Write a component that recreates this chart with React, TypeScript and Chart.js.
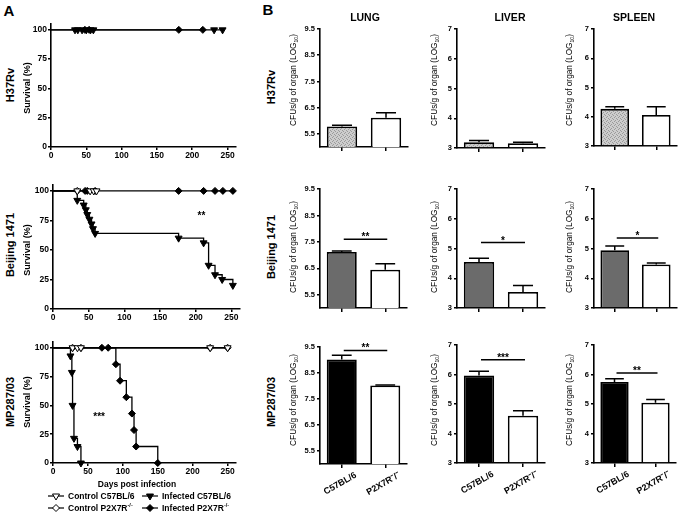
import React, { useEffect, useRef } from 'react';
import { Chart, registerables } from 'chart.js';

Chart.register(...registerables);

const FF = "'Liberation Sans', Arial, Helvetica, sans-serif";

// ---------------- Panel A: survival data ----------------
const strains = ['H37Rv', 'Beijing 1471', 'MP287/03'];
const survXTicks = [0, 50, 100, 150, 200, 250];
const survYTicks = [0, 25, 50, 75, 100];
const survXMax = 262;
const survYMax = 105;

// H37Rv
const h37CtrlC57Days: number[] = [];
const h37CtrlC57Surv: number[] = [];
const h37CtrlP2Days: number[] = [];
const h37CtrlP2Surv: number[] = [];
const h37InfC57Days = [0, 34, 38, 44, 50, 56, 60, 231, 243];
const h37InfC57Surv = [100, 100, 100, 100, 100, 100, 100, 100, 100];
const h37InfP2Days = [0, 48, 54, 181, 215];
const h37InfP2Surv = [100, 100, 100, 100, 100];

// Beijing 1471
const bjCtrlC57Days = [0, 34, 52, 57, 61];
const bjCtrlC57Surv = [100, 100, 100, 100, 100];
const bjCtrlP2Days = [0, 34];
const bjCtrlP2Surv = [100, 100];
const bjInfC57Days = [0, 34, 43, 46, 48, 51, 54, 56, 59, 176, 211, 218, 227, 237, 252];
const bjInfC57Surv = [100, 92, 88, 84, 80, 76, 72, 68, 64, 60, 56, 37, 29, 25, 20];
const bjInfP2Days = [0, 45, 48, 59, 176, 211, 227, 238, 252];
const bjInfP2Surv = [100, 100, 100, 100, 100, 100, 100, 100, 100];

// MP287/03
const mpCtrlC57Days = [0, 28, 35, 40, 225, 250];
const mpCtrlC57Surv = [100, 100, 100, 100, 100, 100];
const mpCtrlP2Days = [0, 28, 40, 225, 250];
const mpCtrlP2Surv = [100, 100, 100, 100, 100];
const mpInfC57Days = [0, 25, 27, 28, 30, 35, 40];
const mpInfC57Surv = [100, 92.9, 78.6, 50, 21.4, 14.3, 0];
const mpInfP2Days = [0, 70, 79, 90, 96, 105, 113, 116, 119, 150];
const mpInfP2Surv = [100, 100, 100, 85.7, 71.4, 57.1, 42.9, 28.6, 14.3, 0];

const survStarDay = [null, 208, 66];
const survStarPct = [null, 81, 42];
const survStarText = ['', '**', '***'];

const survDays = [
  [h37CtrlC57Days, h37CtrlP2Days, h37InfC57Days, h37InfP2Days],
  [bjCtrlC57Days, bjCtrlP2Days, bjInfC57Days, bjInfP2Days],
  [mpCtrlC57Days, mpCtrlP2Days, mpInfC57Days, mpInfP2Days],
];
const survPct = [
  [h37CtrlC57Surv, h37CtrlP2Surv, h37InfC57Surv, h37InfP2Surv],
  [bjCtrlC57Surv, bjCtrlP2Surv, bjInfC57Surv, bjInfP2Surv],
  [mpCtrlC57Surv, mpCtrlP2Surv, mpInfC57Surv, mpInfP2Surv],
];
const groupNames = ['Control C57BL/6', 'Control P2X7R', 'Infected C57BL/6', 'Infected P2X7R'];

// ---------------- Panel B: CFU data ----------------
const organs = ['LUNG', 'LIVER', 'SPLEEN'];
const genotypes = ['C57BL/6', 'P2X7R\u207B/\u207B'];
const lungTicks = [5.5, 6.5, 7.5, 8.5, 9.5];
const organTicks = [3, 4, 5, 6, 7];

const lungMeans = [[5.78, 6.12], [7.12, 6.45], [9.02, 8.02]];
const lungErrTop = [[5.83, 6.31], [7.16, 6.67], [9.18, 8.04]];
const liverMeans = [[3.19, 3.16], [4.55, 3.54], [5.97, 4.6]];
const liverErrTop = [[3.25, 3.19], [4.67, 3.76], [6.11, 4.77]];
const spleenMeans = [[4.27, 4.06], [4.94, 4.46], [5.75, 5.04]];
const spleenErrTop = [[4.34, 4.34], [5.08, 4.51], [5.86, 5.15]];

const lungSigY = [null, 7.6, 9.37];
const lungSigText = ['', '**', '**'];
const liverSigY = [null, 5.2, 6.5];
const liverSigText = ['', '*', '***'];
const spleenSigY = [null, 5.35, 6.05];
const spleenSigText = ['', '*', '**'];

// ---------------- layout (page pixels) ----------------
type Rect = { l: number; t: number; r: number; b: number };
const survRects: Rect[] = [
  { l: 51, t: 24, r: 236, b: 147 },
  { l: 53, t: 185, r: 240, b: 309 },
  { l: 53, t: 342, r: 236, b: 463 },
];
const barRects: Rect[][] = [
  [{ l: 319.5, t: 28.8, r: 407, b: 146.7 }, { l: 457.3, t: 29.3, r: 545, b: 148.3 }, { l: 593.5, t: 29.3, r: 676, b: 146.7 }],
  [{ l: 320, t: 189, r: 407, b: 308.3 }, { l: 457.3, t: 189, r: 545, b: 308.3 }, { l: 593.5, t: 189, r: 676, b: 307.7 }],
  [{ l: 320, t: 346.7, r: 407, b: 463.3 }, { l: 457.3, t: 345, r: 545, b: 463.3 }, { l: 594, t: 345, r: 676, b: 463.3 }],
];

const groupStyle = [
  { ps: 'triangle', rot: 180, fill: '#ffffff', r: 4 },
  { ps: 'rectRot', rot: 0, fill: '#ffffff', r: 3.5 },
  { ps: 'triangle', rot: 180, fill: '#000000', r: 4 },
  { ps: 'rectRot', rot: 0, fill: '#000000', r: 3.5 },
];

type M = { left: number; bottom: number; top: number; right: number };

const axisGrid = (tl: number) => ({
  display: true,
  drawOnChartArea: false,
  drawTicks: true,
  tickLength: tl,
  color: '#000',
  lineWidth: 1.5,
});
const axisBorder = { display: true, color: '#000', width: 1.6 };

function survivalConfig(si: number, m: M) {
  const datasets = survDays[si].map((days, gi) => {
    const st = groupStyle[gi];
    return {
      label: groupNames[gi],
      data: days.map((d, k) => ({ x: d, y: survPct[si][gi][k] })),
      borderColor: '#000',
      borderWidth: 1.3,
      stepped: 'before',
      pointStyle: st.ps,
      pointRotation: st.rot,
      pointBackgroundColor: st.fill,
      pointBorderColor: '#000',
      pointBorderWidth: 1,
      pointRadius: (c: any) => (c.dataIndex === 0 ? 0 : st.r),
      clip: false,
      fill: false,
    };
  });
  const starPlugin = {
    id: 'survStar',
    afterDatasetsDraw(chart: any) {
      const d = survStarDay[si];
      const p = survStarPct[si];
      if (d == null || p == null) return;
      const ctx = chart.ctx;
      ctx.save();
      ctx.fillStyle = '#000';
      ctx.font = `bold 10px ${FF}`;
      ctx.textAlign = 'center';
      ctx.textBaseline = 'middle';
      ctx.fillText(survStarText[si], chart.scales.x.getPixelForValue(d), chart.scales.y.getPixelForValue(p) + 3);
      ctx.restore();
    },
  };
  return {
    type: 'line',
    data: { datasets },
    plugins: [starPlugin],
    options: {
      animation: false,
      responsive: false,
      maintainAspectRatio: false,
      events: [],
      layout: { padding: { top: m.top, right: m.right, left: 0, bottom: 0 } },
      plugins: { legend: { display: false }, tooltip: { enabled: false } },
      scales: {
        x: {
          type: 'linear',
          min: 0,
          max: survXMax,
          grid: axisGrid(3),
          border: axisBorder,
          ticks: { font: { family: FF, size: 8.5, weight: 'bold' }, color: '#000', padding: 1, maxRotation: 0, autoSkip: false },
          afterBuildTicks: (s: any) => {
            s.ticks = survXTicks.map((v) => ({ value: v }));
          },
          afterFit: (s: any) => {
            s.height = m.bottom;
          },
        },
        y: {
          type: 'linear',
          min: 0,
          max: survYMax,
          grid: axisGrid(3),
          border: axisBorder,
          ticks: { font: { family: FF, size: 8.5, weight: 'bold' }, color: '#000', padding: 1, autoSkip: false },
          afterBuildTicks: (s: any) => {
            s.ticks = survYTicks.map((v) => ({ value: v }));
          },
          afterFit: (s: any) => {
            s.width = m.left;
          },
        },
      },
    },
  };
}

function stipple(): any {
  const c = document.createElement('canvas');
  c.width = 4;
  c.height = 4;
  const g = c.getContext('2d')!;
  g.fillStyle = '#cdcdcd';
  g.fillRect(0, 0, 4, 4);
  g.fillStyle = '#9a9a9a';
  g.fillRect(0, 0, 1, 1);
  g.fillRect(2, 1, 1, 1);
  g.fillRect(1, 3, 1, 1);
  g.fillRect(3, 2, 1, 1);
  return g.createPattern(c, 'repeat');
}

function barConfig(row: number, oi: number, m: M) {
  const means = [lungMeans, liverMeans, spleenMeans][oi][row];
  const errTop = [lungErrTop, liverErrTop, spleenErrTop][oi][row];
  const sigY = [lungSigY, liverSigY, spleenSigY][oi][row];
  const sigText = [lungSigText, liverSigText, spleenSigText][oi][row];
  const ticks = oi === 0 ? lungTicks : organTicks;
  const yMin = oi === 0 ? 5 : 3;
  const yMax = oi === 0 ? 9.5 : 7;
  const firstColor = row === 0 ? stipple() : row === 1 ? '#6b6b6b' : '#000000';
  const showX = row === 2;

  const extras = {
    id: 'barExtras',
    afterDatasetsDraw(chart: any) {
      const ctx = chart.ctx;
      const ys = chart.scales.y;
      const meta = chart.getDatasetMeta(0);
      ctx.save();
      ctx.strokeStyle = '#000';
      ctx.lineWidth = 1.5;
      meta.data.forEach((bar: any, i: number) => {
        const yt = ys.getPixelForValue(errTop[i]);
        const half = bar.width * 0.33;
        ctx.beginPath();
        ctx.moveTo(bar.x, bar.y);
        ctx.lineTo(bar.x, yt);
        ctx.moveTo(bar.x - half, yt);
        ctx.lineTo(bar.x + half, yt);
        ctx.stroke();
      });
      if (sigY != null) {
        const x0 = meta.data[0].x;
        const x1 = meta.data[1].x;
        const yy = ys.getPixelForValue(sigY);
        ctx.beginPath();
        ctx.moveTo(x0 + 2, yy);
        ctx.lineTo(x1 + 2, yy);
        ctx.stroke();
        ctx.fillStyle = '#000';
        ctx.font = `bold 10px ${FF}`;
        ctx.textAlign = 'center';
        ctx.textBaseline = 'alphabetic';
        ctx.fillText(sigText, (x0 + x1) / 2 + 2, yy + 1);
      }
      ctx.restore();
    },
  };

  return {
    type: 'bar',
    data: {
      labels: genotypes,
      datasets: [
        {
          data: means,
          base: yMin,
          backgroundColor: [firstColor, '#ffffff'],
          borderColor: '#000',
          borderWidth: 1.8,
          barPercentage: 0.69,
          categoryPercentage: 1,
        },
      ],
    },
    plugins: [extras],
    options: {
      animation: false,
      responsive: false,
      maintainAspectRatio: false,
      events: [],
      layout: { padding: { top: m.top, right: m.right, left: 0, bottom: 0 } },
      plugins: { legend: { display: false }, tooltip: { enabled: false } },
      scales: {
        x: {
          type: 'category',
          offset: true,
          grid: { ...axisGrid(4), offset: false },
          border: axisBorder,
          ticks: {
            display: showX,
            font: { family: FF, size: 9, weight: 'bold' },
            color: '#000',
            minRotation: 30,
            maxRotation: 30,
            labelOffset: 14,
            padding: 2,
            autoSkip: false,
          },
          afterFit: (s: any) => {
            s.height = m.bottom;
          },
        },
        y: {
          type: 'linear',
          min: yMin,
          max: yMax,
          grid: axisGrid(3),
          border: axisBorder,
          ticks: {
            font: { family: FF, size: 7.5, weight: 'bold' },
            color: '#000',
            padding: 2,
            autoSkip: false,
            callback: (v: any) => (oi === 0 ? Number(v).toFixed(1) : String(v)),
          },
          afterBuildTicks: (s: any) => {
            s.ticks = ticks.map((v) => ({ value: v }));
          },
          afterFit: (s: any) => {
            s.width = m.left;
          },
        },
      },
    },
  };
}

function ChartBox({ rect, m, make }: { rect: Rect; m: M; make: (m: M) => any }) {
  const ref = useRef<HTMLCanvasElement>(null);
  const W = Math.round(rect.r - rect.l + m.left + m.right);
  const H = Math.round(rect.b - rect.t + m.top + m.bottom);
  useEffect(() => {
    const chart = new Chart(ref.current as HTMLCanvasElement, make(m));
    return () => chart.destroy();
  }, []);
  return (
    <canvas
      ref={ref}
      width={W}
      height={H}
      style={{ position: 'absolute', left: rect.l - m.left, top: rect.t - m.top, width: W, height: H }}
    />
  );
}

function Txt({ x, y, size, bold = true, rot = false, children }: any) {
  return (
    <div
      style={{
        position: 'absolute',
        left: x,
        top: y,
        transform: `translate(-50%, -50%)${rot ? ' rotate(-90deg)' : ''}`,
        fontFamily: FF,
        fontSize: size,
        fontWeight: bold ? 'bold' : 'normal',
        whiteSpace: 'nowrap',
        lineHeight: 1,
        color: '#000',
      }}
    >
      {children}
    </div>
  );
}

function LegendItem({ x, y, gi }: { x: number; y: number; gi: number }) {
  const st = groupStyle[gi];
  const marker =
    st.ps === 'triangle' ? (
      <polygon points="4.5,3 11.5,3 8,9" fill={st.fill} stroke="#000" strokeWidth={1} />
    ) : (
      <polygon points="8,1.5 11.5,5 8,8.5 4.5,5" fill={st.fill} stroke="#000" strokeWidth={1} />
    );
  return (
    <div style={{ position: 'absolute', left: x, top: y - 5, height: 10, display: 'flex', alignItems: 'center' }}>
      <svg width={16} height={10} style={{ display: 'block' }}>
        <line x1={0} y1={5} x2={16} y2={5} stroke="#000" strokeWidth={1.2} />
        {marker}
      </svg>
      <span style={{ marginLeft: 4, fontFamily: FF, fontSize: 8.5, fontWeight: 'bold', whiteSpace: 'nowrap', lineHeight: 1 }}>
        {groupNames[gi]}
        {gi % 2 === 1 ? <sup style={{ fontSize: 5.5 }}>-/-</sup> : null}
      </span>
    </div>
  );
}

const survRowLabelY = [85, 245, 402];
const survTitleY = [88, 250, 402];
const barRowLabelY = [87, 247, 402];
const cfuTitleY = [80, 247, 400];
const cfuTitleX = [294, 435, 570];
const organTitleX = [365, 510, 634];

export default function App() {
  const survM: M = { left: 30, bottom: 16, top: 8, right: 10 };
  return (
    <div
      style={{
        position: 'fixed',
        left: 0,
        top: 0,
        width: 682,
        height: 515,
        background: '#fff',
        overflow: 'hidden',
      }}
    >
      {survRects.map((r, si) => (
        <ChartBox key={'s' + si} rect={r} m={survM} make={(m) => survivalConfig(si, m)} />
      ))}
      {barRects.map((row, ri) =>
        row.map((r, oi) => (
          <ChartBox
            key={'b' + ri + oi}
            rect={r}
            m={{ left: 24, bottom: ri === 2 ? 45 : 8, top: 8, right: 6 }}
            make={(m) => barConfig(ri, oi, m)}
          />
        ))
      )}

      <Txt x={9} y={10} size={15}>A</Txt>
      <Txt x={268} y={9} size={15}>B</Txt>

      {strains.map((s, i) => (
        <Txt key={'rl' + i} x={10} y={survRowLabelY[i]} size={11} rot>
          {s}
        </Txt>
      ))}
      {strains.map((s, i) => (
        <Txt key={'sy' + i} x={27} y={survTitleY[i]} size={9} rot>
          Survival (%)
        </Txt>
      ))}
      <Txt x={137} y={484} size={8.5}>Days post infection</Txt>

      {organs.map((o, i) => (
        <Txt key={'ot' + i} x={organTitleX[i]} y={17} size={10.5}>
          {o}
        </Txt>
      ))}
      {strains.map((s, i) => (
        <Txt key={'bl' + i} x={271} y={barRowLabelY[i]} size={11} rot>
          {s}
        </Txt>
      ))}
      {strains.map((s, ri) =>
        cfuTitleX.map((x, oi) => (
          <Txt key={'cf' + ri + oi} x={x} y={cfuTitleY[ri]} size={8.3} bold={false} rot>
            CFUs/g of organ (LOG<sub style={{ fontSize: 5 }}>10</sub>)
          </Txt>
        ))
      )}

      <LegendItem x={48} y={496} gi={0} />
      <LegendItem x={142} y={496} gi={2} />
      <LegendItem x={48} y={507.5} gi={1} />
      <LegendItem x={142} y={507.5} gi={3} />
    </div>
  );
}
